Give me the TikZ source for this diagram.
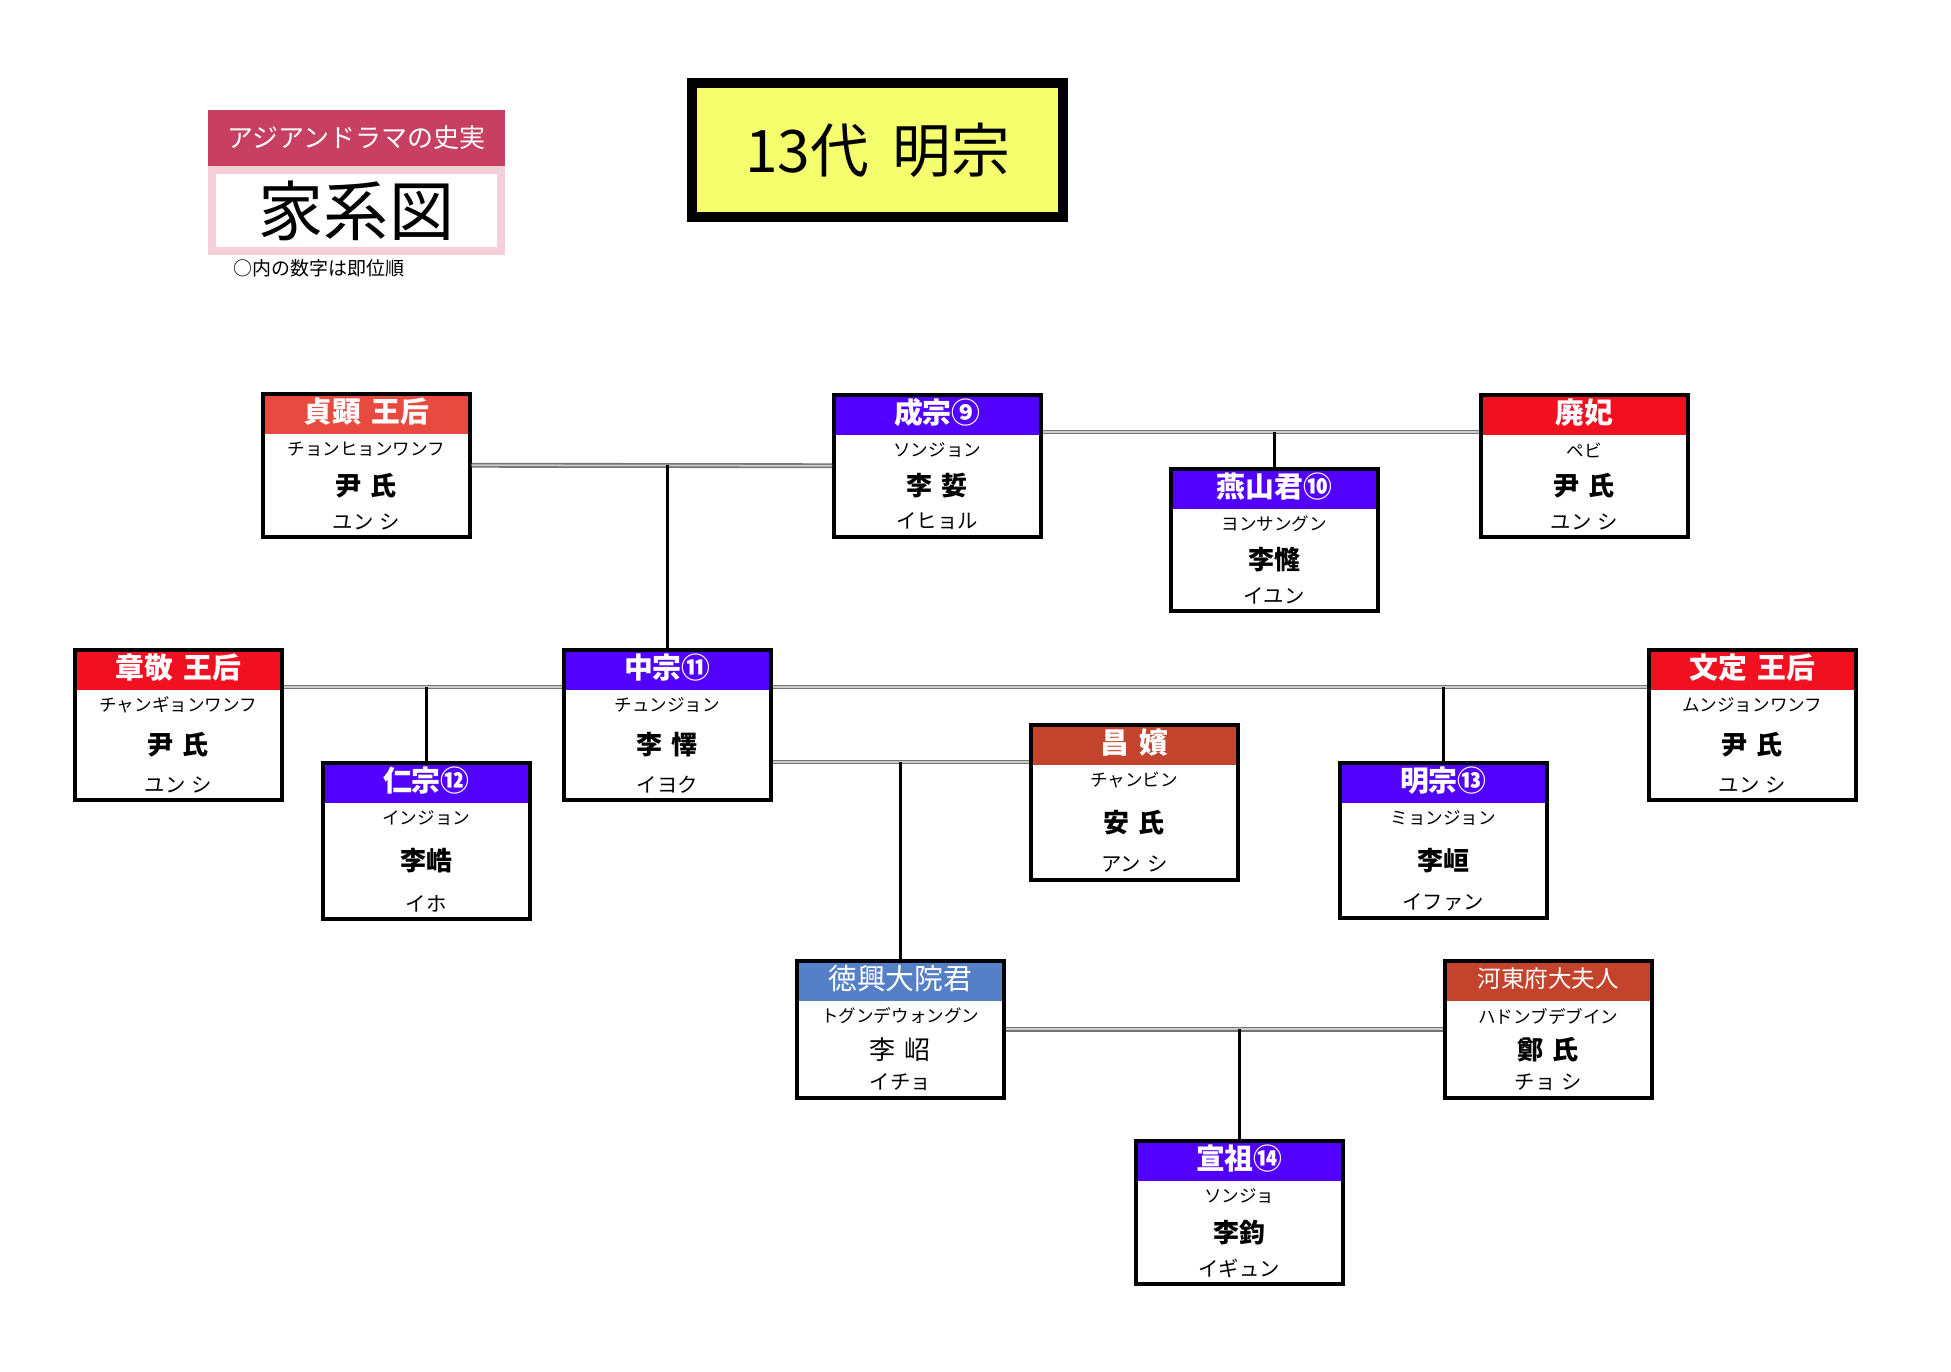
\documentclass[tikz,border=0pt]{standalone}
\usepackage{fontspec}
\setmainfont{Noto Sans CJK JP}
\usetikzlibrary{calc}

\definecolor{kingblue}{RGB}{82,0,255}
\definecolor{queenred}{RGB}{240,16,32}
\definecolor{dowagerred}{RGB}{232,74,63}
\definecolor{consortbrick}{RGB}{196,67,44}
\definecolor{princeblue}{RGB}{85,128,200}
\definecolor{dramapink}{RGB}{200,64,97}
\definecolor{framepink}{RGB}{246,208,217}
\definecolor{titleyellow}{RGB}{245,255,110}

% wider word space
\newcommand{\widegap}[1]{\spaceskip #1em\relax}

\tikzset{
  pbox/.style={draw=black, line width=1pt, minimum width=2.07cm, inner sep=0pt},
  ptitle/.style={text=white, font=\bfseries\fontsize{8.2}{9}\selectfont\widegap{0.35}, inner sep=0pt},
  pkana/.style={font=\fontsize{5}{5.8}\selectfont, inner sep=0pt},
  pname/.style={font=\bfseries\fontsize{7.4}{8.5}\selectfont\widegap{0.35}, inner sep=0pt},
  pread/.style={font=\fontsize{5.8}{6.5}\selectfont\widegap{0.3}, inner sep=0pt},
  mline/.style={draw=black!55, double=black!20, double distance=0.5pt, line width=0.45pt},
  dline/.style={black, line width=0.9pt},
}

% one person: id, left, top, height, colour, title, kana, name, reading
\newcommand{\person}[9]{%
  \node[pbox, minimum height=#4cm, anchor=north west,
    path picture={\fill[#5] (path picture bounding box.north west) rectangle ([yshift=-0.40cm]path picture bounding box.north east);}]
    (#1) at (#2,-#3) {};
  \node[ptitle] (#1-t) at ([yshift=-0.20cm]#1.north) {#6};
  \node[pkana] (#1-k) at ([yshift=-0.57cm]#1.north) {#7};
  \node[pread] (#1-r) at ([yshift=0.17cm]#1.south) {#9};
  \node[pname] (#1-n) at ($(#1-k)!0.5!(#1-r)$) {#8};
}

\begin{document}
\begin{tikzpicture}
\useasboundingbox[fill=white] (0,0) rectangle (19.51,-13.72);

% heading
\node[fill=dramapink, text=white, minimum width=2.97cm, minimum height=0.56cm, inner sep=0pt,
  font=\fontsize{7.4}{8}\selectfont] (drama) at (3.565,-1.38) {アジアンドラマの史実};
\node[draw=framepink, line width=0.08cm, fill=white, minimum width=2.89cm, minimum height=0.81cm,
  inner sep=0pt, font=\fontsize{18.5}{20}\selectfont] (kakeizu) at (3.565,-2.105) {家系図};
\node[font=\fontsize{5.4}{6}\selectfont, inner sep=0pt] (note) at (3.19,-2.68) {○内の数字は即位順};
\node[draw=black, line width=0.10cm, fill=titleyellow, minimum width=3.71cm, minimum height=1.34cm,
  font=\fontsize{16.7}{18}\selectfont\widegap{0.4}] (title) at (8.775,-1.50) {13代 明宗};

% persons
\person{jh}{2.61}{3.92}{1.43}{dowagerred}{貞顕 王后}{チョンヒョンワンフ}{尹 氏}{ユン シ}
\person{sj}{8.32}{3.93}{1.42}{kingblue}{成宗⑨}{ソンジョン}{李 娎}{イヒョル}
\person{ys}{11.69}{4.67}{1.42}{kingblue}{燕山君⑩}{ヨンサングン}{李㦕}{イユン}
\person{hb}{14.79}{3.93}{1.42}{queenred}{廃妃}{ペビ}{尹 氏}{ユン シ}
\person{jk}{0.73}{6.48}{1.50}{queenred}{章敬 王后}{チャンギョンワンフ}{尹 氏}{ユン シ}
\person{jj}{5.62}{6.48}{1.50}{kingblue}{中宗⑪}{チュンジョン}{李 懌}{イヨク}
\person{ij}{3.21}{7.61}{1.56}{kingblue}{仁宗⑫}{インジョン}{李峼}{イホ}
\person{cb}{10.29}{7.23}{1.55}{consortbrick}{昌 嬪}{チャンビン}{安 氏}{アン シ}
\person{mj}{13.38}{7.61}{1.55}{kingblue}{明宗⑬}{ミョンジョン}{李峘}{イファン}
\person{mw}{16.47}{6.48}{1.50}{queenred}{文定 王后}{ムンジョンワンフ}{尹 氏}{ユン シ}
\person{dh}{7.95}{9.59}{1.37}{princeblue}{\mdseries 徳興大院君}{トグンデウォングン}{\mdseries 李 岹}{イチョ}
\person{hd}{14.43}{9.59}{1.37}{consortbrick}{\mdseries\fontsize{6.7}{7.5}\selectfont 河東府大夫人}{ハドンブデブイン}{鄭 氏}{チョ シ}
\person{sn}{11.34}{11.39}{1.43}{kingblue}{宣祖⑭}{ソンジョ}{李鈞}{イギュン}

% marriages and children
\coordinate (sjhb) at ([yshift=-0.39cm]sj.north east);
\coordinate (jkjj) at ([yshift=-0.39cm]jk.north east);
\coordinate (jjmw) at ([yshift=-0.39cm]jj.north east);
\coordinate (jjcb) at ([yshift=-0.39cm]cb.north west);
\draw[mline] (jh.east) -- (sj.west);
\draw[dline] (jj.north) -- (jj.north |- jh.east);
\draw[mline] (sjhb) -- (sjhb -| hb.west);
\draw[dline] (ys.north) -- (ys.north |- sjhb);
\draw[mline] (jkjj) -- (jkjj -| jj.west);
\draw[dline] (ij.north) -- (ij.north |- jkjj);
\draw[mline] (jjmw) -- (jjmw -| mw.west);
\draw[dline] (mj.north) -- (mj.north |- jjmw);
\draw[mline] (jjcb -| jj.east) -- (jjcb);
\draw[dline] (dh.north) -- (dh.north |- jjcb);
\draw[mline] (dh.east) -- (hd.west);
\draw[dline] (sn.north) -- (sn.north |- dh.east);
\end{tikzpicture}
\end{document}
